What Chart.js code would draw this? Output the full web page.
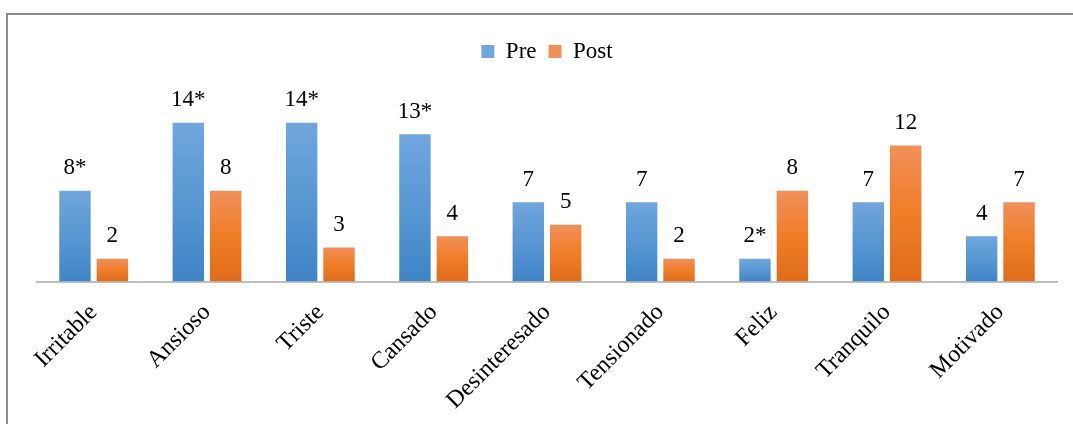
<!DOCTYPE html>
<html>
<head>
<meta charset="utf-8">
<script src="https://cdn.jsdelivr.net/npm/chart.js@4/dist/chart.umd.min.js"></script>
<style>
  html, body { margin: 0; padding: 0; background: #fff; overflow: hidden; }
  #frame {
    position: absolute; left: 6px; top: 13px; width: 1100px; height: 440px;
    border-left: 2px solid #8c8c8c; border-top: 2px solid #8c8c8c;
  }
  #wrap { position: absolute; left: 0; top: 0; width: 1073px; height: 424px; }
</style>
</head>
<body>
<div id="frame"></div>
<div id="wrap"><canvas id="chart" width="1073" height="424"></canvas></div>
<script>
// Emotional states reported before and after the session
const categories = ['Irritable', 'Ansioso', 'Triste', 'Cansado', 'Desinteresado', 'Tensionado', 'Feliz', 'Tranquilo', 'Motivado'];
const preValues  = [8, 14, 14, 13, 7, 7, 2, 7, 4];
const postValues = [2, 8, 3, 4, 5, 2, 8, 12, 7];
const preLabels  = ['8*', '14*', '14*', '13*', '7', '7', '2*', '7', '4'];
const postLabels = ['2', '8', '3', '4', '5', '2', '8', '12', '7'];

const serif = "'Liberation Serif', 'Times New Roman', serif";

// Vertical gradient per bar, lighter at the top
function barGradient(top, mid, bottom, flat) {
  return function (ctx) {
    const chart = ctx.chart;
    if (ctx.type !== 'data' || !chart.chartArea || !chart.scales.y) return flat;
    const y = chart.scales.y;
    const y0 = y.getPixelForValue(ctx.parsed.y);
    const y1 = y.getPixelForValue(0);
    if (!isFinite(y0) || !isFinite(y1) || y0 === y1) return flat;
    const g = chart.ctx.createLinearGradient(0, y0, 0, y1);
    g.addColorStop(0, top);
    g.addColorStop(0.5, mid);
    g.addColorStop(1, bottom);
    return g;
  };
}

// Value text above each bar
const valueLabels = {
  id: 'valueLabels',
  afterDatasetsDraw(chart) {
    const c = chart.ctx;
    c.save();
    c.font = '23px ' + serif;
    c.fillStyle = '#000';
    c.textAlign = 'center';
    c.textBaseline = 'bottom';
    chart.data.datasets.forEach((ds, i) => {
      const meta = chart.getDatasetMeta(i);
      meta.data.forEach((bar, j) => {
        c.fillText(ds.valueText[j], bar.x, bar.y - 11);
      });
    });
    c.restore();
  }
};

new Chart(document.getElementById('chart'), {
  type: 'bar',
  data: {
    labels: categories,
    datasets: [
      {
        label: 'Pre',
        data: preValues,
        valueText: preLabels,
        backgroundColor: barGradient('#70a6dc', '#5897d3', '#3f84c6', '#5b9bd5'),
        barPercentage: 0.84,
        categoryPercentage: 0.66
      },
      {
        label: 'Post',
        data: postValues,
        valueText: postLabels,
        backgroundColor: barGradient('#f0905a', '#f07d27', '#df6c1a', '#ed7d31'),
        barPercentage: 0.84,
        categoryPercentage: 0.66
      }
    ]
  },
  options: {
    responsive: false,
    animation: false,
    devicePixelRatio: 1,
    layout: { padding: { top: 28, left: 37, right: 16, bottom: 0 } },
    plugins: {
      legend: {
        position: 'top',
        labels: {
          boxWidth: 13, boxHeight: 13, padding: 12,
          color: '#000',
          font: { family: serif, size: 23 }
        }
      },
      tooltip: { enabled: false }
    },
    scales: {
      x: {
        grid: { display: false },
        border: { display: true, color: '#bfbfbf', width: 2 },
        ticks: {
          color: '#000',
          maxRotation: 45, minRotation: 45,
          font: { family: serif, size: 24 },
          padding: 9
        }
      },
      y: {
        display: false,
        min: 0,
        max: 18.4
      }
    }
  },
  plugins: [valueLabels]
});
</script>
</body>
</html>
